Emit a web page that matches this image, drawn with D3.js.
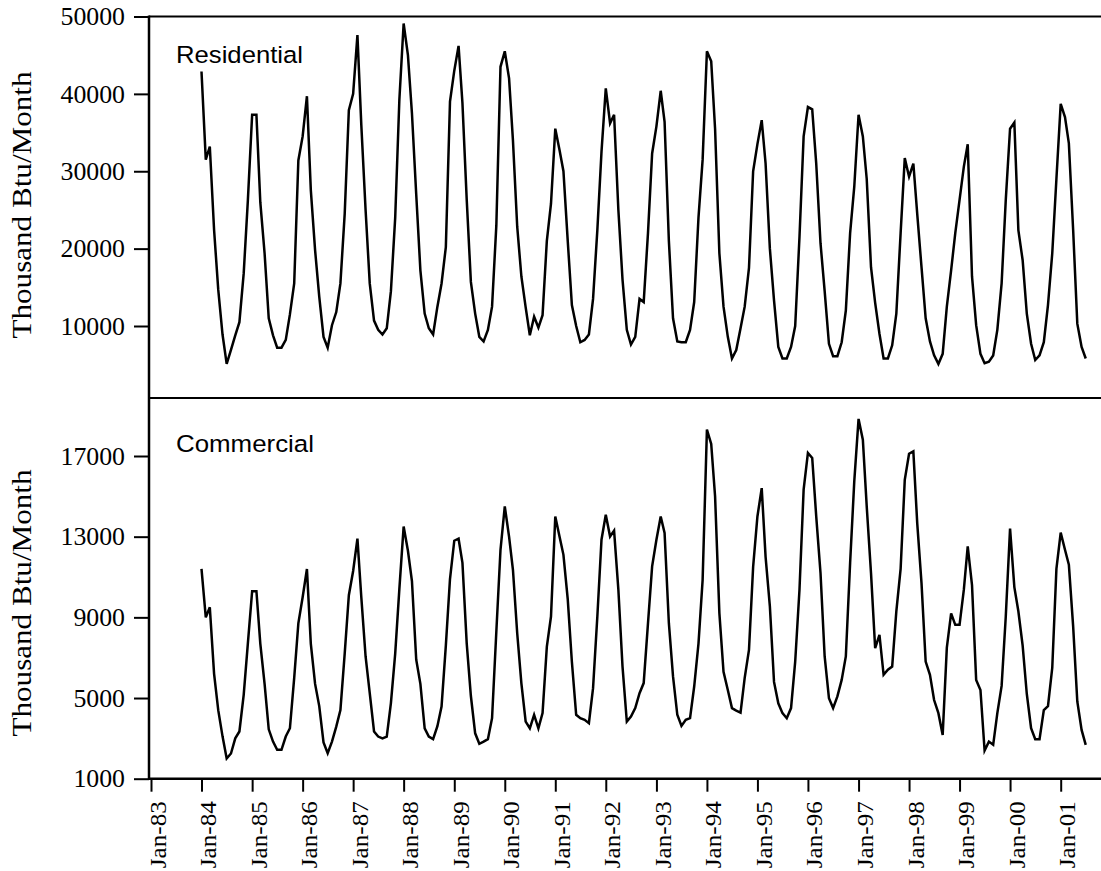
<!DOCTYPE html>
<html>
<head>
<meta charset="utf-8">
<script src="https://cdn.jsdelivr.net/npm/d3@7"></script>
<style>
  html, body { margin: 0; padding: 0; background: #fff; }
  svg { display: block; }
</style>
</head>
<body>
<svg id="chart" width="1101" height="871"></svg>
<script>
// Monthly energy use, January 1984 through July 2001 (Thousand Btu/Month)
const firstMonth = "1984-01";

const residential = [
  42900, 31500, 33200, 22400, 14700, 8900, 5100, 6900, 8800, 10500, 16800, 26200,
  37300, 37300, 26000, 19400, 11000, 8800, 7200, 7200, 8200, 11500, 15500, 31400,
  34500, 39700, 27600, 19800, 13800, 8600, 7200, 10100, 11800, 15500, 24500, 37900,
  40000, 47600, 36000, 25000, 15500, 10700, 9500, 8900, 9700, 14500, 24000, 39200,
  49100, 45000, 37500, 27000, 17200, 11600, 9700, 8900, 12500, 15500, 20200, 39000,
  43000, 46200, 38800, 26300, 15700, 11600, 8600, 8000, 9500, 12500, 23000, 43500,
  45500, 42000, 34000, 22800, 16400, 12400, 8800, 11200, 9800, 11400, 21000, 25800,
  35500, 32700, 30000, 21000, 12700, 10000, 7900, 8200, 8900, 13500, 22400, 32500,
  40700, 36200, 37300, 25000, 16000, 9500, 7600, 8600, 13500, 13100, 22000, 32300,
  35800, 40400, 36400, 21000, 11000, 8000, 7900, 7900, 9500, 13100, 24000, 31500,
  45500, 44200, 35500, 19400, 12500, 8600, 5800, 6900, 9700, 12500, 17500, 30000,
  33500, 36600, 31000, 20000, 13300, 7300, 5800, 5800, 7300, 10000, 21500, 34500,
  38300, 38000, 31000, 20700, 14500, 7700, 6100, 6100, 7900, 12000, 22000, 28000,
  37300, 34500, 29000, 17600, 13000, 9000, 5800, 5800, 7500, 11600, 22000, 31700,
  29300, 31000, 24500, 17600, 11000, 8000, 6200, 5100, 6400, 12500, 17200, 22000,
  26300, 30600, 33500, 16400, 10100, 6400, 5200, 5400, 6200, 9500, 15500, 26300,
  35500, 36300, 22400, 18500, 11600, 7700, 5600, 6200, 7900, 12700, 19400, 29000,
  38700, 37000, 33600, 22400, 10300, 7300, 5800
];

const commercial = [
  11400, 9000, 9500, 6200, 4400, 3100, 2000, 2250, 3000, 3340, 5160, 7700,
  10300, 10300, 7700, 5700, 3450, 2840, 2430, 2430, 3090, 3500, 6000, 8700,
  10000, 11400, 7700, 5700, 4600, 2800, 2260, 2840, 3580, 4400, 7200, 10100,
  11300, 12900, 10000, 7060, 5240, 3340, 3090, 3000, 3090, 4750, 7200, 10400,
  13500, 12300, 10800, 6900, 5700, 3500, 3090, 2960, 3600, 4580, 7600, 10900,
  12800, 12900, 11700, 7700, 5100, 3250, 2730, 2840, 2960, 4000, 8300, 12350,
  14500, 13000, 11360, 8200, 5730, 3830, 3500, 4170, 3500, 4250, 7550, 9040,
  14000, 13000, 12100, 9900, 6800, 4170, 4000, 3920, 3750, 5490, 9040, 12850,
  14090, 13010, 13300, 10370, 6560, 3830, 4080, 4500, 5240, 5740, 8700, 11530,
  12850, 14000, 13180, 8710, 6070, 4170, 3620, 3920, 4000, 5570, 7700, 10860,
  18310, 17600, 15000, 9210, 6300, 5400, 4500, 4380, 4280, 6000, 7390, 11500,
  14000, 15410, 12000, 9540, 5800, 4740, 4250, 4000, 4500, 6800, 10370, 15330,
  17150, 16900, 14010, 11200, 7060, 4990, 4500, 5080, 5900, 7060, 11700, 15740,
  18840, 17810, 14500, 11190, 7470, 8130, 6150, 6400, 6560, 9300, 11400, 15820,
  17110, 17230, 13670, 10700, 6810, 6150, 4900, 4250, 3170, 7500, 9200, 8630,
  8630, 10370, 12520, 10600, 5900, 5400, 2400, 2840, 2680, 4250, 5600, 9040,
  13400, 10500, 9300, 7600, 5200, 3500, 2960, 2960, 4400, 4600, 6500, 11400,
  13200, 12350, 11610, 8550, 4830, 3420, 2680
];

const residentialTicks = [10000, 20000, 30000, 40000, 50000];
const commercialTicks = [1000, 5000, 9000, 13000, 17000];
const monthTickLabels = [
  "Jan-83", "Jan-84", "Jan-85", "Jan-86", "Jan-87", "Jan-88", "Jan-89", "Jan-90",
  "Jan-91", "Jan-92", "Jan-93", "Jan-94", "Jan-95", "Jan-96", "Jan-97", "Jan-98",
  "Jan-99", "Jan-00", "Jan-01"
];
const panelNames = ["Residential", "Commercial"];
const yTitle = "Thousand Btu/Month";

// ---- layout ----
const W = 1101, H = 871;
const left = 149, right = 1101;
const topY = 16.5, midY = 398, bottomY = 778.7;
const serif = "'Liberation Serif', 'Times New Roman', Times, serif";
const sans = "'Liberation Sans', Arial, Helvetica, sans-serif";

const parseTick = d3.timeParse("%b-%y");
const parseMonth = d3.timeParse("%Y-%m");
const tickDates = monthTickLabels.map(parseTick);
const start = parseMonth(firstMonth);
const monthDate = i => d3.timeMonth.offset(start, i);

const x = d3.scaleTime()
  .domain([tickDates[0], tickDates[tickDates.length - 1]])
  .range([151, 1060.7]);

const yRes = d3.scaleLinear().domain([10000, 50000]).range([326, topY]);
const yCom = d3.scaleLinear().domain([1000, 17000]).range([bottomY, 456]);

const svg = d3.select("#chart");
svg.append("rect").attr("width", W).attr("height", H).attr("fill", "#fff");

// ---- data lines ----
function drawSeries(values, y) {
  const line = d3.line()
    .x((d, i) => x(monthDate(i)))
    .y(d => y(d));
  svg.append("path")
    .datum(values)
    .attr("d", line)
    .attr("fill", "none")
    .attr("stroke", "#000")
    .attr("stroke-width", 2.5)
    .attr("stroke-linejoin", "miter");
}
drawSeries(residential, yRes);
drawSeries(commercial, yCom);

// ---- frame ----
const frame = svg.append("g").attr("stroke", "#000");
frame.append("line").attr("x1", left).attr("x2", right).attr("y1", topY).attr("y2", topY).attr("stroke-width", 2);
frame.append("line").attr("x1", left).attr("x2", right).attr("y1", midY).attr("y2", midY).attr("stroke-width", 2);
frame.append("line").attr("x1", left).attr("x2", right).attr("y1", bottomY).attr("y2", bottomY).attr("stroke-width", 2.5);
frame.append("line").attr("x1", left).attr("x2", left).attr("y1", topY - 1).attr("y2", bottomY + 1.2).attr("stroke-width", 2.5);

// ---- y axes ----
function yAxis(scale, ticks) {
  const g = svg.append("g")
    .attr("transform", `translate(${left},0)`)
    .call(d3.axisLeft(scale).tickValues(ticks).tickSize(15).tickPadding(9).tickFormat(d3.format("d")));
  g.select(".domain").remove();
  g.selectAll(".tick line").attr("stroke", "#000").attr("stroke-width", 2);
  g.selectAll(".tick text")
    .attr("fill", "#000")
    .attr("font-family", serif)
    .attr("font-size", 25)
    .attr("textLength", d => String(d).length * 12.9)
    .attr("lengthAdjust", "spacingAndGlyphs")
    .attr("dy", "0.33em");
}
yAxis(yRes, residentialTicks);
yAxis(yCom, commercialTicks);

// ---- x axis ----
const xa = svg.append("g")
  .attr("transform", `translate(0,${bottomY})`)
  .call(d3.axisBottom(x).tickValues(tickDates).tickSize(13)
    .tickFormat((d, i) => monthTickLabels[i]));
xa.select(".domain").remove();
xa.selectAll(".tick line").attr("stroke", "#000").attr("stroke-width", 2);
xa.selectAll(".tick text")
  .attr("fill", "#000")
  .attr("font-family", serif)
  .attr("font-size", 24)
  .attr("textLength", 67)
  .attr("lengthAdjust", "spacingAndGlyphs")
  .attr("text-anchor", "end")
  .attr("transform", "rotate(-90)")
  .attr("x", -22.5)
  .attr("y", 14)
  .attr("dy", 0);

// ---- axis titles ----
[205, 603].forEach(cy => {
  svg.append("text")
    .attr("transform", `translate(31,${cy}) rotate(-90)`)
    .attr("text-anchor", "middle")
    .attr("font-family", serif)
    .attr("font-size", 27)
    .attr("textLength", 267)
    .attr("lengthAdjust", "spacingAndGlyphs")
    .attr("fill", "#000")
    .text(yTitle);
});

// ---- panel labels ----
svg.append("text")
  .attr("x", 176).attr("y", 63.3)
  .attr("font-family", sans).attr("font-size", 24.5)
  .attr("textLength", 127).attr("lengthAdjust", "spacingAndGlyphs")
  .attr("fill", "#000")
  .text(panelNames[0]);
svg.append("text")
  .attr("x", 176).attr("y", 451.7)
  .attr("font-family", sans).attr("font-size", 24.5)
  .attr("textLength", 138).attr("lengthAdjust", "spacingAndGlyphs")
  .attr("fill", "#000")
  .text(panelNames[1]);
</script>
</body>
</html>
